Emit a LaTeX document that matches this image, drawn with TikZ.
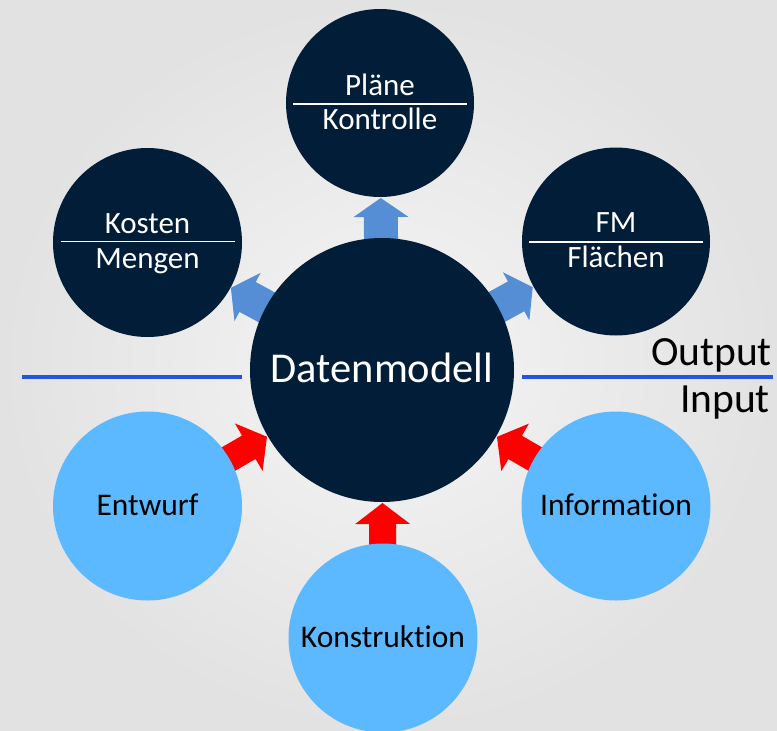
\documentclass[tikz,border=0pt]{standalone}
\usepackage{fontspec}
\setmainfont{Carlito}[Ligatures={NoCommon,NoRare}]
\usetikzlibrary{calc}
\pgfdeclarelayer{bglayer}
\pgfdeclarelayer{arrlayer}
\pgfsetlayers{bglayer,arrlayer,main}
\definecolor{navy}{RGB}{1,29,56}
\definecolor{lightblue}{RGB}{92,185,255}
\definecolor{arrblue}{RGB}{85,142,213}
\definecolor{arrred}{RGB}{255,0,0}
\definecolor{lineblue}{RGB}{35,85,225}
\definecolor{bgouter}{RGB}{226,226,226}
\definecolor{bginner}{RGB}{245,245,245}
% #1 from node, #2 to node, #3 tail dist, #4 head-base dist, #5 tip dist, #6 shaft half width, #7 style
\newcommand\blockarrow[7]{%
  \fill[#7] ($(#1)!#3!(#2)!#6!90:(#2)$) -- ($(#1)!#4!(#2)!#6!90:(#2)$)
    -- ($(#1)!#4!(#2)!27.5pt!90:(#2)$) -- ($(#1)!#5!(#2)$)
    -- ($(#1)!#4!(#2)!27.5pt!-90:(#2)$) -- ($(#1)!#4!(#2)!#6!-90:(#2)$)
    -- ($(#1)!#3!(#2)!#6!-90:(#2)$) -- cycle;}
\begin{document}
\begin{tikzpicture}[x=1pt,y=-1pt,
  darkc/.style={circle,fill=navy,minimum size=#1,inner sep=0pt},
  lightc/.style={circle,fill=lightblue,minimum size=#1,inner sep=0pt},
  wtxt/.style={text=white,font=\fontsize{31}{36}\selectfont,anchor=base,inner sep=0pt},
  btxt/.style={text=black,font=\fontsize{31.5}{36}\selectfont,anchor=base,inner sep=0pt},
  divider/.style={draw=white,line width=1.6pt},
  sepline/.style={draw=lineblue,line width=4pt},
  iotxt/.style={text=black,font=\fontsize{41.5}{46}\selectfont,anchor=base east,inner sep=0pt}]
\useasboundingbox (0,0) rectangle (777,731);
\clip (0,0) rectangle (777,731);
\begin{pgfonlayer}{bglayer}
  \shade[inner color=bginner,outer color=bgouter] (0,0) rectangle (777,731);
\end{pgfonlayer}

% circles
\node[darkc=264pt] (big) at (382,370) {};
\node[darkc=188pt] (plan) at (380,103) {};
\node[darkc=189pt] (kost) at (147.5,242.5) {};
\node[darkc=188pt] (fm) at (616,241.5) {};
\node[lightc=189pt] (entw) at (147.5,506) {};
\node[lightc=189pt] (info) at (616,506) {};
\node[lightc=189pt] (kons) at (383,638) {};

% texts
\node[text=white,font=\fontsize{42.5}{50}\selectfont,anchor=base,inner sep=0pt] (bigt) at (382,382) {Datenmodell};
\node[wtxt] (plant) at (380,95) {Pläne};
\node[wtxt] (planb) at (380,129) {Kontrolle};
\node[wtxt] (kostt) at (147.5,233) {Kosten};
\node[wtxt] (kostb) at (147.5,268) {Mengen};
\node[wtxt] (fmt) at (616,232.5) {FM};
\node[wtxt] (fmb) at (616,267.5) {Flächen};
\node[btxt] (entwt) at (147.5,515) {Entwurf};
\node[btxt] (infot) at (616,515) {Information};
\node[btxt] (konst) at (383,647) {Konstruktion};

% dividers
\draw[divider] ($(plan)+(-87,1)$) -- ($(plan)+(87,1)$);
\draw[divider] ($(kost)+(-87,-1)$) -- ($(kost)+(87,-1)$);
\draw[divider] ($(fm)+(-87,0.5)$) -- ($(fm)+(87,0.5)$);

% output / input
\coordinate (l1) at (22,377);
\coordinate (l2) at (242,377);
\coordinate (r1) at (522,377);
\coordinate (r2) at (773,377);
\draw[sepline] (l1) -- (l2);
\draw[sepline] (r1) -- (r2);
\node[iotxt] (outt) at (772,365) {Output};
\node[iotxt] (inpt) at (770,412) {Input};

% arrows
\begin{pgfonlayer}{arrlayer}
  \blockarrow{big}{plan}{110pt}{153pt}{172pt}{17pt}{arrblue}
  \blockarrow{big}{kost}{110pt}{153pt}{172pt}{17pt}{arrblue}
  \blockarrow{big}{fm}{110pt}{153pt}{172pt}{17pt}{arrblue}
  \blockarrow{big}{entw}{195pt}{154pt}{133pt}{13.5pt}{arrred}
  \blockarrow{big}{info}{195pt}{154pt}{133pt}{13.5pt}{arrred}
  \blockarrow{big}{kons}{195pt}{154pt}{133pt}{13.5pt}{arrred}
\end{pgfonlayer}
\end{tikzpicture}
\end{document}
